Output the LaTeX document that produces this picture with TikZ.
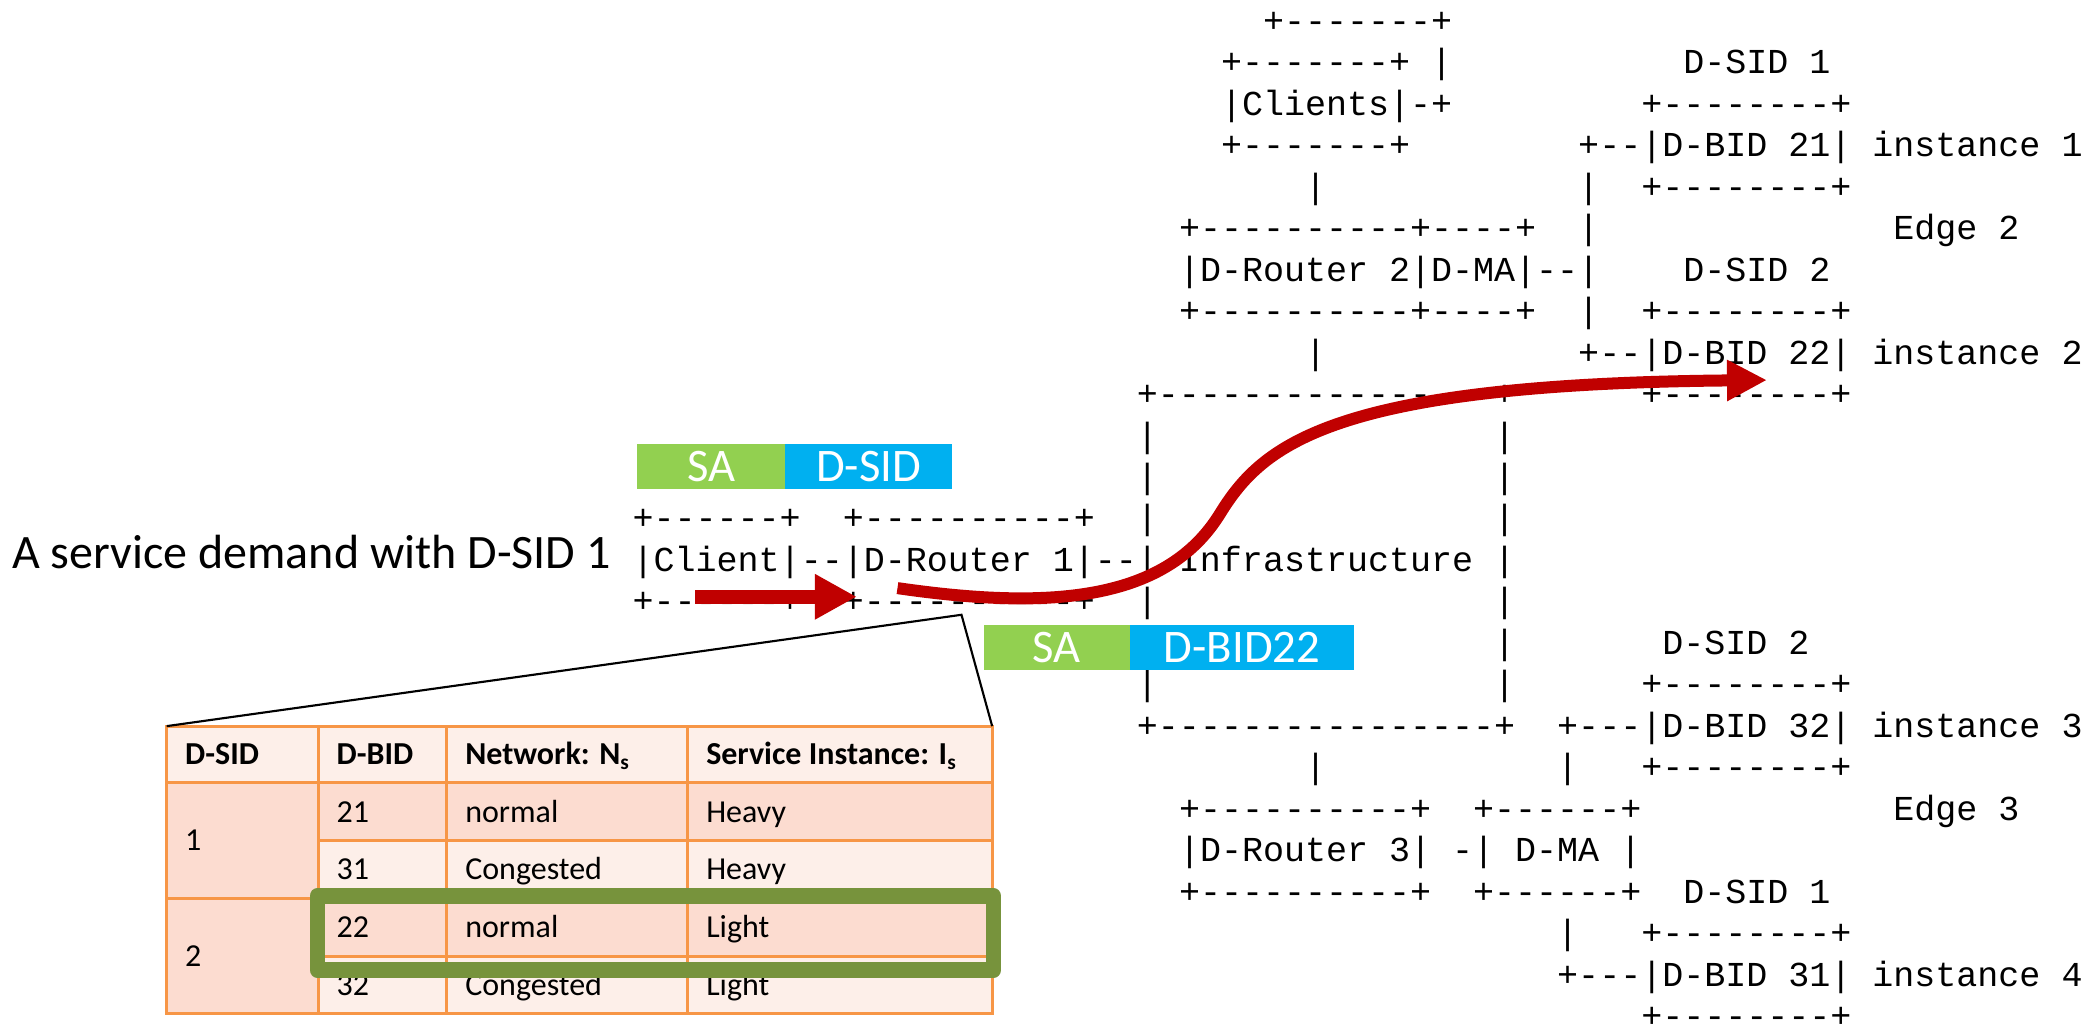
\documentclass[tikz,border=0pt]{standalone}
\usepackage{fontspec}
\setmainfont{Carlito}
\setmonofont{Liberation Mono}
\usetikzlibrary{arrows.meta}
\definecolor{dred}{HTML}{C00000}
\definecolor{sagreen}{HTML}{92D050}
\definecolor{sidblue}{HTML}{00B0F0}
\definecolor{tborder}{HTML}{F79646}
\definecolor{tlight}{HTML}{FDEFE9}
\definecolor{tdark}{HTML}{FCDCD0}
\definecolor{olivebox}{HTML}{77933C}
\newcommand\asc[4]{\node[ascii] (#1) at ({474.42+15.757*#2},{24.2+31.1*#3}) {#4};}
\tikzset{
  ascii/.style={anchor=base west, inner sep=0pt, outer sep=0pt,
    font=\ttfamily\fontsize{13.13pt}{15pt}\selectfont, text=black},
  cellst/.style={draw=tborder, line width=1.1pt},
  tbl/.style={anchor=base west, inner sep=0pt, font=\fontsize{12pt}{14pt}\selectfont},
  lbl/.style={inner sep=0pt, text=white, font=\fontsize{17.5pt}{20pt}\selectfont},
  lead/.style={anchor=base west, inner sep=0pt, font=\fontsize{18pt}{21pt}\selectfont},
  callout/.style={draw=black, line width=0.8pt},
  redarrow/.style={draw=dred, line width=5.25pt, -{Triangle[length=15.75pt,width=16pt]}},
  redcurve/.style={draw=dred, line width=4.5pt, -{Triangle[length=15pt,width=14.5pt]}},
  hilite/.style={draw=olivebox, line width=5.75pt, line join=round}
}
\begin{document}
\begin{tikzpicture}[x=0.5pt,y=-0.5pt]
\useasboundingbox (0,0) rectangle (1565,768);
% ---------------- ASCII art ----------------
\asc{a0}{30}{0}{+-------+}
\asc{a1}{28}{1}{+-------+ |}
\asc{a1b}{50}{1}{D-SID 1}
\asc{a2}{28}{2}{|Clients|-+}
\asc{a2b}{48}{2}{+--------+}
\asc{a3}{28}{3}{+-------+}
\asc{a3b}{45}{3}{+--|D-BID 21| instance 1}
\asc{a4}{32}{4}{|}
\asc{a4b}{45}{4}{|}
\asc{a4c}{48}{4}{+--------+}
\asc{a5}{26}{5}{+----------+----+}
\asc{a5b}{45}{5}{|}
\asc{a5c}{60}{5}{Edge 2}
\asc{a6}{26}{6}{|D-Router 2|D-MA|--|}
\asc{a6b}{50}{6}{D-SID 2}
\asc{a7}{26}{7}{+----------+----+}
\asc{a7b}{45}{7}{|}
\asc{a7c}{48}{7}{+--------+}
\asc{a8}{32}{8}{|}
\asc{a8b}{45}{8}{+--|D-BID 22| instance 2}
\asc{a9}{24}{9}{+----------------+}
\asc{a9b}{48}{9}{+--------+}
\asc{a10}{24}{10}{|}
\asc{a10b}{41}{10}{|}
\asc{a11}{24}{11}{|}
\asc{a11b}{41}{11}{|}
\asc{a12}{0}{12}{+------+}
\asc{a12b}{10}{12}{+----------+}
\asc{a12c}{24}{12}{|}
\asc{a12d}{41}{12}{|}
\asc{a13}{0}{13}{|Client|--|D-Router 1|--| Infrastructure |}
\asc{a14}{0}{14}{+------+}
\asc{a14b}{10}{14}{+----------+}
\asc{a14c}{24}{14}{|}
\asc{a14d}{41}{14}{|}
\asc{a15}{24}{15}{|}
\asc{a15b}{41}{15}{|}
\asc{a15c}{49}{15}{D-SID 2}
\asc{a16}{24}{16}{|}
\asc{a16b}{41}{16}{|}
\asc{a16c}{48}{16}{+--------+}
\asc{a17}{24}{17}{+----------------+}
\asc{a17b}{44}{17}{+---|D-BID 32| instance 3}
\asc{a18}{32}{18}{|}
\asc{a18b}{44}{18}{|}
\asc{a18c}{48}{18}{+--------+}
\asc{a19}{26}{19}{+----------+}
\asc{a19b}{40}{19}{+------+}
\asc{a19c}{60}{19}{Edge 3}
\asc{a20}{26}{20}{|D-Router 3| -| D-MA |}
\asc{a21}{26}{21}{+----------+}
\asc{a21b}{40}{21}{+------+}
\asc{a21c}{50}{21}{D-SID 1}
\asc{a22}{44}{22}{|}
\asc{a22b}{48}{22}{+--------+}
\asc{a23}{44}{23}{+---|D-BID 31| instance 4}
\asc{a24}{48}{24}{+--------+}
% ---------------- lead text ----------------
\node[lead] (demand) at (8.7,426) {A service demand with D-SID 1};
% ---------------- table ----------------
\draw[cellst, fill=tlight] (125,544.5) rectangle (238.6,587);
\draw[cellst, fill=tlight] (238.6,544.5) rectangle (335,587);
\draw[cellst, fill=tlight] (335,544.5) rectangle (515.7,587);
\draw[cellst, fill=tlight] (515.7,544.5) rectangle (744,587);
\draw[cellst, fill=tdark] (125,587) rectangle (238.6,673.75);
\draw[cellst, fill=tdark] (125,673.75) rectangle (238.6,760);
\foreach \ya/\yb/\cf in {587/630.5/tdark, 630.5/673.75/tlight, 673.75/717/tdark, 717/760/tlight}{
  \draw[cellst, fill=\cf] (238.6,\ya) rectangle (335,\yb);
  \draw[cellst, fill=\cf] (335,\ya) rectangle (515.7,\yb);
  \draw[cellst, fill=\cf] (515.7,\ya) rectangle (744,\yb);
}
\node[tbl] (h1) at (138.5,573.5) {\bfseries D-SID};
\node[tbl] (h2) at (252.1,573.5) {\bfseries D-BID};
\node[tbl] (h3) at (348.5,573.5) {\bfseries Network: N\textsubscript{s}};
\node[tbl] (h4) at (529.2,573.5) {\bfseries Service Instance: I\textsubscript{s}};
\node[tbl] (s1) at (138.5,638.1) {1};
\node[tbl] (s2) at (138.5,724.6) {2};
\node[tbl] (b21) at (252.1,616.5) {21};
\node[tbl] (n21) at (348.5,616.5) {normal};
\node[tbl] (i21) at (529.2,616.5) {Heavy};
\node[tbl] (b31) at (252.1,659.6) {31};
\node[tbl] (n31) at (348.5,659.6) {Congested};
\node[tbl] (i31) at (529.2,659.6) {Heavy};
\node[tbl] (b22) at (252.1,703.1) {22};
\node[tbl] (n22) at (348.5,703.1) {normal};
\node[tbl] (i22) at (529.2,703.1) {Light};
\node[tbl] (b32) at (252.1,746.2) {32};
\node[tbl] (n32) at (348.5,746.2) {Congested};
\node[tbl] (i32) at (529.2,746.2) {Light};
% highlight
\draw[hilite] (237.9,671.8) rectangle (745.1,727.4);
% callout
\coordinate (apex) at (721,461);
\coordinate (tl) at (125,544.5);
\coordinate (tr) at (744,544.5);
\draw[callout] (tl) -- (apex) -- (tr);
% ---------------- packet labels ----------------
\fill[sagreen] (478,333) rectangle (588.5,366.75);
\fill[sidblue] (588.5,333) rectangle (714,366.75);
\node[lbl] (sa1) at (533.25,349.9) {SA};
\node[lbl] (dsid) at (651.25,349.9) {D-SID};
\fill[sagreen] (737.7,468.75) rectangle (847.2,502.5);
\fill[sidblue] (847.2,468.75) rectangle (1015.5,502.5);
\node[lbl] (sa2) at (792.45,485.6) {SA};
\node[lbl] (dbid) at (931.35,485.6) {D-BID22};
% ---------------- red arrows ----------------
\coordinate (p1) at (521.4,447.5);
\coordinate (q1) at (642.5,447.5);
\draw[redarrow] (p1) -- (q1);
\coordinate (p2) at (673,441);
\coordinate (m2) at (915,385);
\coordinate (q2) at (1325,285);
\draw[redcurve] (p2) .. controls (790,458) and (875,450) .. (m2)
  .. controls (947,333) and (1000,288) .. (q2);
\end{tikzpicture}
\end{document}
